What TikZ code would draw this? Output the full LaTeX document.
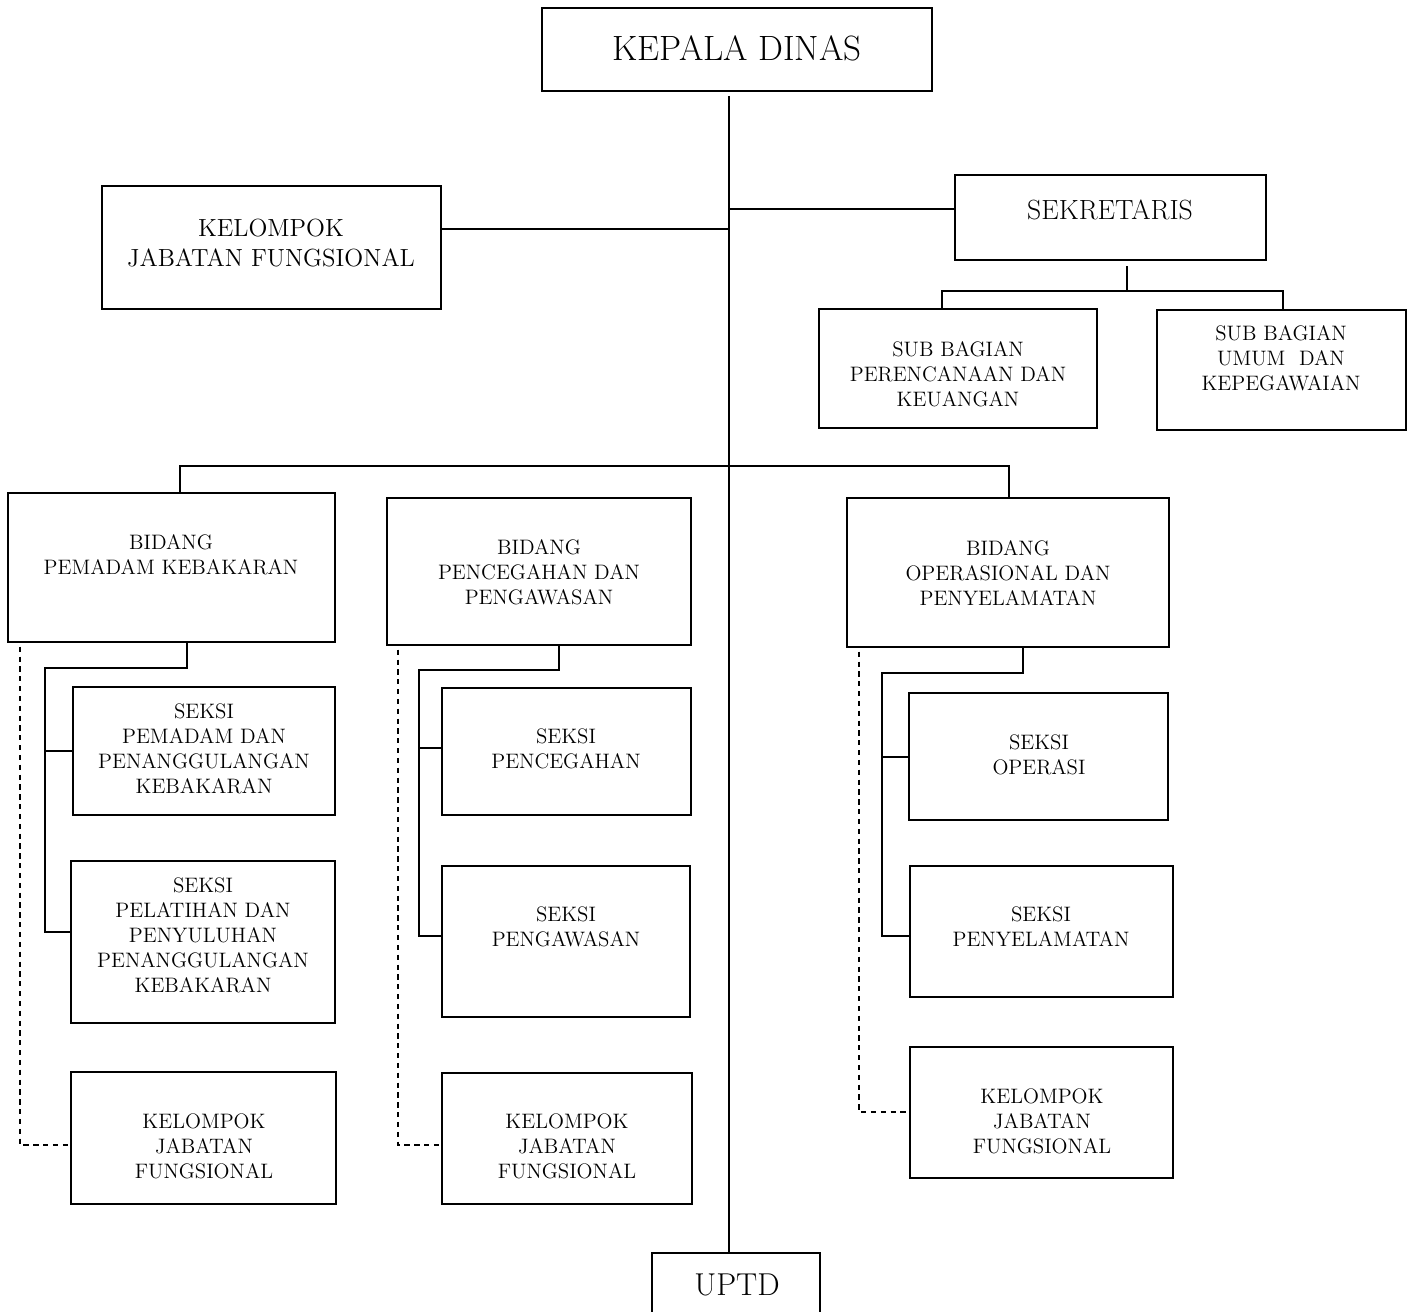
\documentclass[tikz,border=0pt]{standalone}
\usetikzlibrary{fit}
\tikzset{
  box/.style={draw,line width=1.3pt,inner sep=0pt},
  lbl/.style={align=center,inner sep=0pt,font=\fontsize{11.9}{14.2}\selectfont},
  link/.style={line width=1.1pt},
  dashlink/.style={line width=0.9pt,dash pattern=on 3pt off 2.6pt},
}
\begin{document}
\begin{tikzpicture}[x=0.02cm,y=-0.02cm]
  \useasboundingbox (0,0) rectangle (1412,1311);
  % top level
  \node[box,fit={(542,8) (932,91)}] (kd) {};
  \node[lbl,font=\fontsize{20}{23}\selectfont] (kd-t) at (737,48) {KEPALA DINAS};
  \node[box,fit={(102,186) (441,309)}] (kjf) {};
  \node[lbl,font=\fontsize{14.1}{17}\selectfont] (kjf-t) at (271,243) {KELOMPOK\\JABATAN FUNGSIONAL};
  \node[box,fit={(955,175) (1266,260)}] (sek) {};
  \node[lbl,font=\fontsize{15.8}{18}\selectfont] (sek-t) at (1110,210) {SEKRETARIS};
  \node[box,fit={(819,309) (1097,428)}] (sbp) {};
  \node[lbl] (sbp-t) at (958,374) {SUB BAGIAN\\PERENCANAAN DAN\\KEUANGAN};
  \node[box,fit={(1157,310) (1406,430)}] (sbu) {};
  \node[lbl] (sbu-t) at (1281,358) {SUB BAGIAN\\UMUM\ \ DAN\\KEPEGAWAIAN};
  \node[box,fit={(652,1253) (820,1330)}] (uptd) {};
  \node[lbl,font=\fontsize{18}{21}\selectfont] (uptd-t) at (737,1285) {UPTD};

  % bidang
  \node[box,fit={(8,493) (335,642)}] (bpk) {};
  \node[lbl] (bpk-t) at (171,555) {BIDANG\\PEMADAM KEBAKARAN};
  \node[box,fit={(387,498) (691,645)}] (bpp) {};
  \node[lbl] (bpp-t) at (539,572) {BIDANG\\PENCEGAHAN DAN\\PENGAWASAN};
  \node[box,fit={(847,498) (1169,647)}] (bop) {};
  \node[lbl] (bop-t) at (1008,573) {BIDANG\\OPERASIONAL DAN\\PENYELAMATAN};

  % seksi
  \node[box,fit={(73,687) (335,815)}] (s1a) {};
  \node[lbl] (s1a-t) at (204,749) {SEKSI\\PEMADAM DAN\\PENANGGULANGAN\\KEBAKARAN};
  \node[box,fit={(71,861) (335,1023)}] (s1b) {};
  \node[lbl] (s1b-t) at (203,935) {SEKSI\\PELATIHAN DAN\\PENYULUHAN\\PENANGGULANGAN\\KEBAKARAN};
  \node[box,fit={(71,1072) (336,1204)}] (f1) {};
  \node[lbl] (f1-t) at (204,1146) {KELOMPOK\\JABATAN\\FUNGSIONAL};
  \node[box,fit={(442,688) (691,815)}] (s2a) {};
  \node[lbl] (s2a-t) at (566,749) {SEKSI\\PENCEGAHAN};
  \node[box,fit={(442,866) (690,1017)}] (s2b) {};
  \node[lbl] (s2b-t) at (566,927) {SEKSI\\PENGAWASAN};
  \node[box,fit={(442,1073) (692,1204)}] (f2) {};
  \node[lbl] (f2-t) at (567,1146) {KELOMPOK\\JABATAN\\FUNGSIONAL};
  \node[box,fit={(909,693) (1168,820)}] (s3a) {};
  \node[lbl] (s3a-t) at (1039,755) {SEKSI\\OPERASI};
  \node[box,fit={(910,866) (1173,997)}] (s3b) {};
  \node[lbl] (s3b-t) at (1041,927) {SEKSI\\PENYELAMATAN};
  \node[box,fit={(910,1047) (1173,1178)}] (f3) {};
  \node[lbl] (f3-t) at (1042,1121) {KELOMPOK\\JABATAN\\FUNGSIONAL};

  % spine and upper branches
  \coordinate (spine) at (729,96);
  \coordinate (j kjf) at (729,229);
  \coordinate (j sek) at (729,209);
  \coordinate (j sub) at (1127,291);
  \coordinate (d sbp) at (942,291);
  \coordinate (d sbu) at (1283,291);
  \coordinate (d bpk) at (180,466);
  \coordinate (d bop) at (1009,466);
  \draw[link] (spine) -- (spine |- uptd.north);
  \draw[link] (j kjf) -- (j kjf -| kjf.east);
  \draw[link] (j sek) -- (j sek -| sek.west);
  \draw[link] ([yshift=-3pt]sek.south -| j sub) -- (j sub);
  \draw[link] (d sbp |- sbp.north) -- (d sbp) -- (d sbu) -- (d sbu |- sbu.north);
  \draw[link] (d bpk |- bpk.north) -- (d bpk) -- (d bop) -- (d bop |- bop.north);

  % column 1
  \coordinate (h1) at (187,668);
  \coordinate (r1) at (45,668);
  \coordinate (e1) at (45,932);
  \coordinate (g1) at (20,1145);
  \draw[link] (h1 |- bpk.south) -- (h1) -- (r1) -- (e1) -- (e1 -| s1b.west);
  \draw[link] (r1 |- s1a.west) -- (s1a.west);
  \draw[dashlink] ([yshift=-2pt]g1 |- bpk.south) -- (g1) -- (g1 -| f1.west);

  % column 2
  \coordinate (h2) at (559,670);
  \coordinate (r2) at (419,670);
  \coordinate (e2) at (419,936);
  \coordinate (g2) at (398,1145);
  \draw[link] (h2 |- bpp.south) -- (h2) -- (r2) -- (e2) -- (e2 -| s2b.west);
  \draw[link] (r2 |- 0,748) -- (s2a.west |- 0,748);
  \draw[dashlink] ([yshift=-2pt]g2 |- bpp.south) -- (g2) -- (g2 -| f2.west);

  % column 3
  \coordinate (h3) at (1023,673);
  \coordinate (r3) at (882,673);
  \coordinate (e3) at (882,936);
  \coordinate (g3) at (859,1112);
  \draw[link] (h3 |- bop.south) -- (h3) -- (r3) -- (e3) -- (e3 -| s3b.west);
  \draw[link] (r3 |- 0,757) -- (s3a.west |- 0,757);
  \draw[dashlink] ([yshift=-2pt]g3 |- bop.south) -- (g3) -- (g3 -| f3.west);
\end{tikzpicture}
\end{document}
